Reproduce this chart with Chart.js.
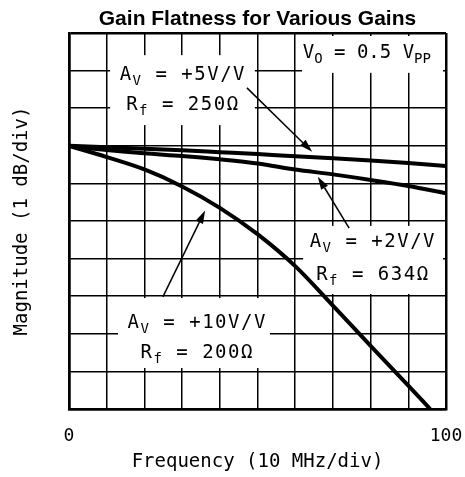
<!DOCTYPE html>
<html>
<head>
<meta charset="utf-8">
<script src="https://cdn.jsdelivr.net/npm/chart.js@4.4.1/dist/chart.umd.min.js"></script>
<style>
  html, body { margin: 0; padding: 0; background: #fff; }
  canvas { display: block; }
</style>
</head>
<body>
<canvas id="c" width="465" height="477"></canvas>
<script>
// ---- Data ----
const freq = [0, 10, 20, 30, 40, 50, 60, 70, 80, 90, 100];
const gainAv5 = [0, -0.04, -0.08, -0.12, -0.17, -0.22, -0.28, -0.33, -0.39, -0.46, -0.54];
const gainAv2 = [0, -0.11, -0.2, -0.27, -0.36, -0.47, -0.63, -0.76, -0.91, -1.07, -1.26];
const freqAv10 = [0, 10, 20, 30, 40, 50, 60, 70, 80, 90, 95.8];
const gainAv10 = [0, -0.3, -0.63, -1.08, -1.65, -2.35, -3.2, -4.25, -5.32, -6.38, -7.0];
const xTickLabels = ['0', '100'];
const yRange = [-7, 3];
const xRange = [0, 100];

const MONO = '"DejaVu Sans Mono", monospace';

function pts(xs, ys) { return xs.map((x, i) => ({ x: x, y: ys[i] })); }

// Annotation layout (in data coordinates)
const boxes = [
  { x0: 10.9, x1: 49.3, y0: 2.41, y1: 0.55 },
  { x0: 61.8, x1: 99.2, y0: 2.92, y1: 1.94 },
  { x0: 62.1, x1: 99.2, y0: -2.13, y1: -3.94 },
  { x0: 13.0, x1: 53.3, y0: -4.05, y1: -5.91 }
];
const labels = [
  { x: 30.2, y: 1.75, sp: 1.5, parts: [['A'], ['V', 1], [' = +5V/V']] },
  { x: 30.2, y: 0.95, sp: 1.5, parts: [['R'], ['f', 1], [' = 250Ω']] },
  { x: 79.0, y: 2.34, sp: 0, parts: [['V'], ['O', 1], [' = 0.5 V'], ['PP', 1]] },
  { x: 80.6, y: -2.69, sp: 1.5, parts: [['A'], ['V', 1], [' = +2V/V']] },
  { x: 80.6, y: -3.57, sp: 1.5, parts: [['R'], ['f', 1], [' = 634Ω']] },
  { x: 34.0, y: -4.85, sp: 1.5, parts: [['A'], ['V', 1], [' = +10V/V']] },
  { x: 34.0, y: -5.64, sp: 1.5, parts: [['R'], ['f', 1], [' = 200Ω']] }
];
const arrows = [
  { from: [47.2, 1.54], to: [64.5, -0.16] },
  { from: [74.3, -2.19], to: [66.0, -0.82] },
  { from: [24.9, -4.02], to: [36.1, -1.72] }
];

const annotationPlugin = {
  id: 'annotations',
  beforeDatasetsDraw(chart) {
    const { ctx, scales: { x, y } } = chart;
    ctx.save();
    ctx.fillStyle = '#fff';
    boxes.forEach(b => {
      const px0 = x.getPixelForValue(b.x0), px1 = x.getPixelForValue(b.x1);
      const py0 = y.getPixelForValue(b.y0), py1 = y.getPixelForValue(b.y1);
      ctx.fillRect(px0, py0, px1 - px0, py1 - py0);
    });
    ctx.fillStyle = '#000';
    ctx.textBaseline = 'alphabetic';
    ctx.textAlign = 'left';
    const big = '19px ' + MONO, small = '14px ' + MONO;
    labels.forEach(l => {
      try { ctx.letterSpacing = l.sp + 'px'; } catch (e) {}
      let w = 0;
      l.parts.forEach(p => { ctx.font = p[1] ? small : big; w += ctx.measureText(p[0]).width; });
      let cx = x.getPixelForValue(l.x) - w / 2;
      const by = y.getPixelForValue(l.y);
      l.parts.forEach(p => {
        ctx.font = p[1] ? small : big;
        ctx.fillText(p[0], cx, by + (p[1] ? 5 : 0));
        cx += ctx.measureText(p[0]).width;
      });
    });
    try { ctx.letterSpacing = '0px'; } catch (e) {}
    ctx.restore();
  },
  afterDatasetsDraw(chart) {
    const { ctx, scales: { x, y } } = chart;
    ctx.save();
    ctx.strokeStyle = '#000';
    ctx.fillStyle = '#000';
    ctx.lineWidth = 1.5;
    arrows.forEach(a => {
      const x0 = x.getPixelForValue(a.from[0]), y0 = y.getPixelForValue(a.from[1]);
      const x1 = x.getPixelForValue(a.to[0]), y1 = y.getPixelForValue(a.to[1]);
      const ang = Math.atan2(y1 - y0, x1 - x0);
      const L = 13, W = 4;
      const bx = x1 - L * Math.cos(ang), by = y1 - L * Math.sin(ang);
      ctx.beginPath();
      ctx.moveTo(x0, y0);
      ctx.lineTo(bx, by);
      ctx.stroke();
      ctx.beginPath();
      ctx.moveTo(x1, y1);
      ctx.lineTo(bx + W * Math.sin(ang), by - W * Math.cos(ang));
      ctx.lineTo(bx - W * Math.sin(ang), by + W * Math.cos(ang));
      ctx.closePath();
      ctx.fill();
    });
    ctx.restore();
  }
};

const lineStyle = {
  borderColor: '#000',
  borderWidth: 4,
  pointRadius: 0,
  fill: false,
  cubicInterpolationMode: 'monotone'
};

new Chart(document.getElementById('c'), {
  type: 'line',
  data: {
    datasets: [
      Object.assign({ label: 'AV = +5V/V, Rf = 250Ω', data: pts(freq, gainAv5) }, lineStyle),
      Object.assign({ label: 'AV = +2V/V, Rf = 634Ω', data: pts(freq, gainAv2) }, lineStyle),
      Object.assign({ label: 'AV = +10V/V, Rf = 200Ω', data: pts(freqAv10, gainAv10) }, lineStyle)
    ]
  },
  options: {
    responsive: false,
    devicePixelRatio: 1,
    animation: false,
    layout: { padding: { left: 0, right: 19, top: 0, bottom: 0 } },
    plugins: {
      legend: { display: false },
      tooltip: { enabled: false },
      title: {
        display: true,
        text: 'Gain Flatness for Various Gains',
        color: '#000',
        fullSize: false,
        font: { family: '"Liberation Sans", Arial, sans-serif', size: 21, weight: 'bold', lineHeight: 1.2 },
        padding: { top: 7, bottom: 0.8 }
      }
    },
    scales: {
      x: {
        type: 'linear',
        min: xRange[0],
        max: xRange[1],
        afterFit(scale) { scale.height = 68; },
        border: { display: true, color: '#000', width: 2.5 },
        grid: {
          color: '#000',
          lineWidth: c => (c.index === 0 || c.index === 10) ? 2.5 : 1.5,
          drawTicks: true,
          tickLength: 15,
          tickColor: 'rgba(0,0,0,0)'
        },
        ticks: {
          stepSize: 10,
          autoSkip: false,
          maxRotation: 0,
          color: '#000',
          padding: 2,
          font: { family: MONO, size: 18 },
          callback: v => xTickLabels.includes(String(v)) ? String(v) : ''
        },
        title: {
          display: true,
          text: 'Frequency (10 MHz/div)',
          color: '#000',
          font: { family: MONO, size: 19 },
          padding: { top: 0, bottom: 4 }
        }
      },
      y: {
        type: 'linear',
        min: yRange[0],
        max: yRange[1],
        afterFit(scale) { scale.width = 69; },
        border: { display: true, color: '#000', width: 2.5 },
        grid: {
          color: '#000',
          lineWidth: c => (c.index === 0 || c.index === 10) ? 2.5 : 1.5,
          drawTicks: false
        },
        ticks: { stepSize: 1, display: false },
        title: {
          display: true,
          text: 'Magnitude (1 dB/div)',
          color: '#000',
          font: { family: MONO, size: 19 },
          padding: { top: 11, bottom: 0 }
        }
      }
    }
  },
  plugins: [annotationPlugin]
});
</script>
</body>
</html>
